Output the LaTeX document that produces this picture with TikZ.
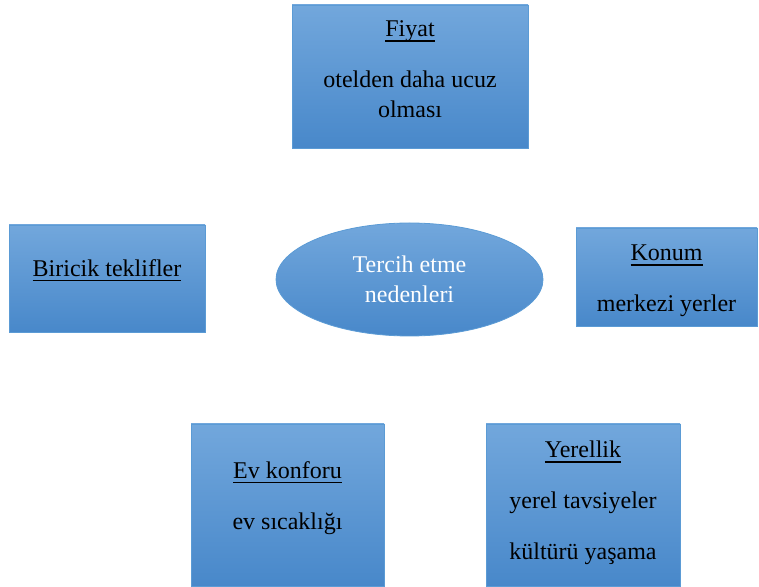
\documentclass[tikz,border=0pt]{standalone}
\usepackage{fontspec}
\setmainfont{Liberation Serif}
\usepackage{tikz}
\usetikzlibrary{shapes.geometric}
\definecolor{ustmavi}{RGB}{114,167,220}
\definecolor{altmavi}{RGB}{72,136,202}
\definecolor{kenar}{RGB}{91,155,213}
\newcommand{\baslik}[1]{\setbox0\hbox{#1}\rlap{\rule[-5pt]{\wd0}{1.6pt}}\box0}
\tikzset{
    tercih/.style={
            x=1pt,y=1pt,
            kutu/.style={draw=kenar, line width=0.8pt, top color=ustmavi, bottom color=altmavi, inner sep=0pt},
            yazi/.style={align=center, font=\fontsize{24}{30}\selectfont}
        }
    }

\begin{document}
\begin{tikzpicture}[tercih]
    \useasboundingbox (0,0) rectangle (759,586);

    \node [kutu, ellipse, minimum width=267, minimum height=113, yazi, text=white] (merkez) at (409.5,306.5) {Tercih etme\\nedenleri};

    \node [kutu, minimum width=236, minimum height=143] (fiyat) at (410,509.5) {};
    \node [yazi] (fiyat-yazi) at (410,516.5) {\baslik{Fiyat}\\[21pt]otelden daha ucuz\\olması};

    \node [kutu, minimum width=196, minimum height=107] (biricik) at (107,307.5) {};
    \node [yazi] (biricik-yazi) at (107,315.5) {\baslik{Biricik teklifler}};

    \node [kutu, minimum width=181, minimum height=98] (konum) at (666.5,309) {};
    \node [yazi] (konum-yazi) at (666.5,305) {\baslik{Konum}\\[21pt]merkezi yerler};

    \node [kutu, minimum width=193, minimum height=162] (ev) at (287.5,81) {};
    \node [yazi] (ev-yazi) at (287.5,88) {\baslik{Ev konforu}\\[21pt]ev sıcaklığı};

    \node [kutu, minimum width=194, minimum height=162] (yerel) at (583,81) {};
    \node [yazi] (yerel-yazi) at (583,83) {\baslik{Yerellik}\\[21pt]yerel tavsiyeler\\[21pt]kültürü yaşama};

\end{tikzpicture}
\end{document}
